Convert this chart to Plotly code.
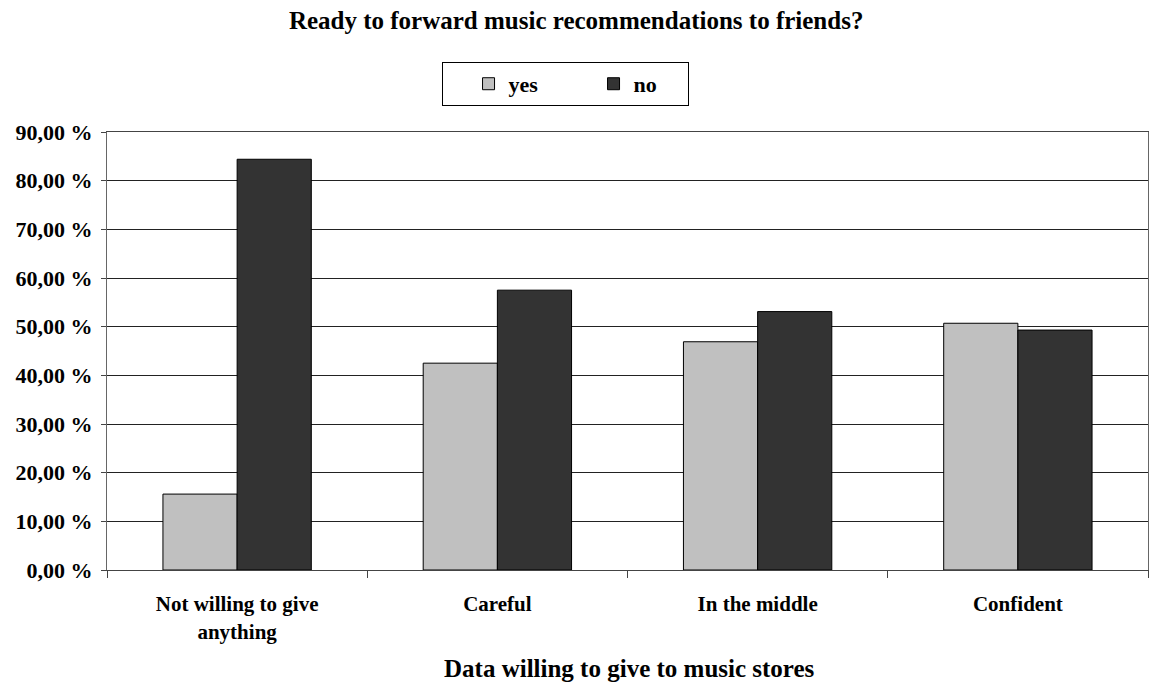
import plotly.graph_objects as go

categories = ["Not willing to give<br>anything", "Careful", "In the middle", "Confident"]
yes_pct = [15.6, 42.5, 46.9, 50.7]
no_pct = [84.4, 57.5, 53.1, 49.3]
tick_values = [0, 10, 20, 30, 40, 50, 60, 70, 80, 90]
tick_labels = ["0,00 %", "10,00 %", "20,00 %", "30,00 %", "40,00 %", "50,00 %",
               "60,00 %", "70,00 %", "80,00 %", "90,00 %"]

FONT = "Liberation Serif"

fig = go.Figure()
fig.add_trace(go.Bar(name="<b>yes</b>", x=categories, y=yes_pct, legendwidth=54,
                     marker=dict(color="#C0C0C0", line=dict(color="#000000", width=1))))
fig.add_trace(go.Bar(name="<b>no</b>", x=categories, y=no_pct, legendwidth=49,
                     marker=dict(color="#333333", line=dict(color="#000000", width=1))))

fig.update_layout(
    width=1150, height=684,
    margin=dict(l=107, r=2, t=132, b=114),
    paper_bgcolor="white", plot_bgcolor="white",
    barmode="group", bargap=0.43, bargroupgap=0,
    font=dict(family=FONT, size=16, color="black"),
    title=dict(text="<b>Ready to forward music recommendations to friends?</b>",
               x=0.501, xref="container", xanchor="center", y=0.97, yanchor="middle",
               font=dict(family=FONT, size=25, color="black")),
    legend=dict(orientation="h", x=0.44, xanchor="center", y=1.16, yanchor="top",
                bordercolor="black", borderwidth=1, bgcolor="white",
                indentation=26,
                font=dict(family=FONT, size=22, color="black")),
    showlegend=True,
    annotations=[dict(text="<b>Data willing to give to music stores</b>",
                      xref="paper", yref="paper", x=0.502, y=-0.226,
                      xanchor="center", yanchor="middle", showarrow=False,
                      font=dict(family=FONT, size=25, color="black"))],
)

fig.update_xaxes(
    type="category", tickson="boundaries", ticks="outside", ticklen=7,
    tickcolor="#444", showline=True, linecolor="#444", linewidth=1,
    mirror=True, showgrid=False,
    tickvals=categories, ticktext=[f"<b>{c}</b>" for c in categories],
    tickfont=dict(family=FONT, size=21, color="black"),
    ticklabelstandoff=15,
)
fig.update_yaxes(
    range=[0, 90], tickvals=tick_values,
    ticktext=[f"<b>{t}</b>" for t in tick_labels],
    ticks="outside", ticklen=5, tickcolor="#444",
    showline=True, linecolor="#666", linewidth=1, mirror=True,
    showgrid=True, gridcolor="#222", gridwidth=1,
    tickfont=dict(family=FONT, size=22, color="black"),
    ticklabelstandoff=4,
)

fig.write_html("out.html")
